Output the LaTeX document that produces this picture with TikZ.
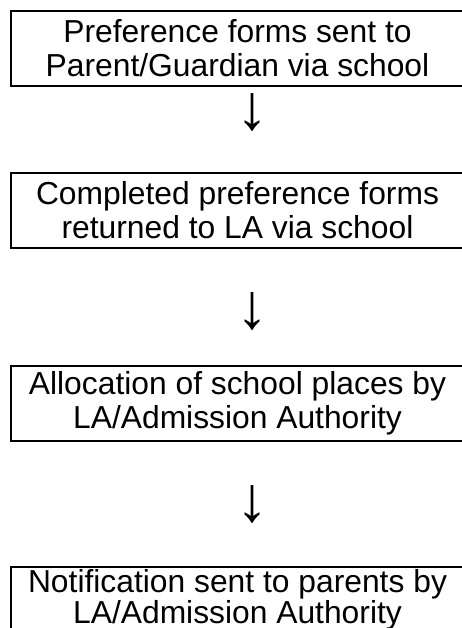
\documentclass[tikz,border=0pt]{standalone}
\usepackage{fontspec}
\setmainfont{Liberation Sans}
\usepackage{tikz}
\tikzset{stagebox/.style = {draw, line width=1.5pt, minimum width=453pt,
                            minimum height=75pt, inner sep=0pt, align=center,
                            font=\fontsize{31.8}{34}\selectfont},
         downglyph/.style = {inner sep=0pt, font=\fontsize{64}{64}\selectfont}}
\begin{document}
\begin{tikzpicture}[x=1pt, y=-1pt]
     \useasboundingbox (0, 0) rectangle (461, 628);
     \node [stagebox] (forms) at (237.5, 48.5) {Preference forms sent to\\Parent/Guardian via school};
     \node [stagebox] (returned) at (237.5, 210.5) {Completed preference forms\\returned to LA via school};
     \node [stagebox] (allocation) at (237.5, 403.5) {Allocation of school places by\\LA/Admission Authority};
     \node [stagebox, minimum height=66pt, font=\fontsize{31.8}{31}\selectfont] (notification) at (237.5, 600) {Notification sent to parents by\\LA/Admission Authority};
     \node [downglyph] (arrowa) at (252, 112) {↓};
     \node [downglyph] (arrowb) at (252, 311) {↓};
     \node [downglyph] (arrowc) at (252, 504) {↓};
    \end{tikzpicture}
\end{document}
